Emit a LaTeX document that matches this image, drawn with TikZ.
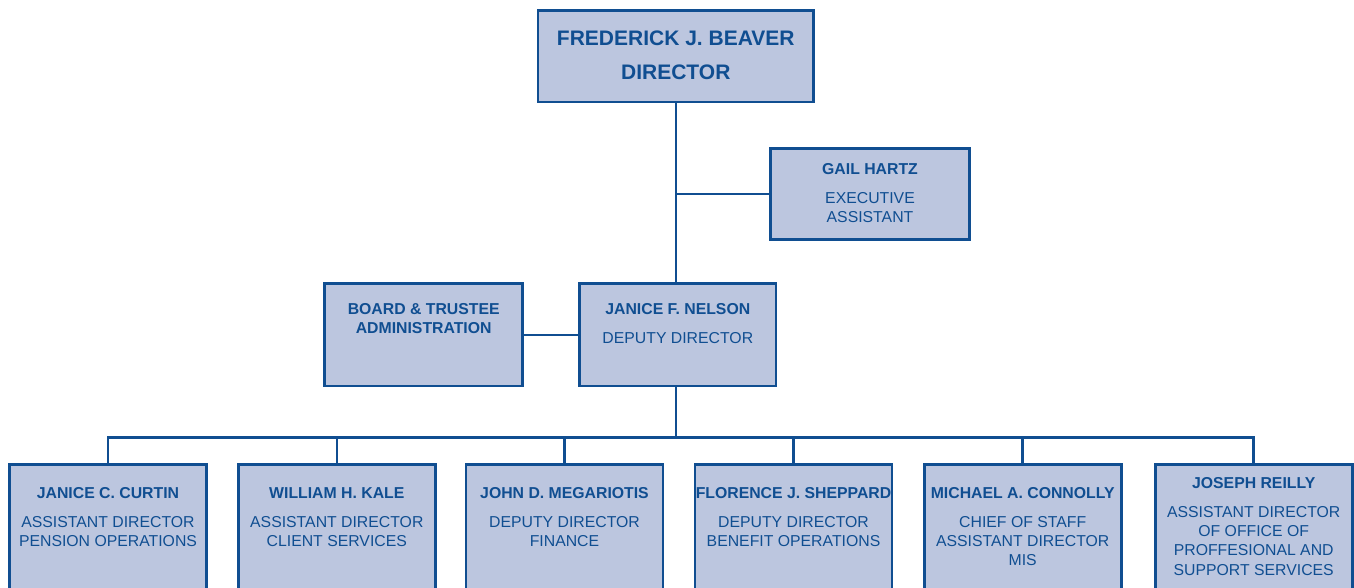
\documentclass[tikz,border=0pt]{standalone}
\usepackage{fontspec}
\setmainfont{Liberation Sans}
\usetikzlibrary{positioning}
\definecolor{orgfill}{RGB}{188,198,223}
\definecolor{orgline}{RGB}{16,78,145}
\begin{document}
\begin{tikzpicture}[x=1pt,y=-1pt]
    % Stili
    \tikzstyle{box}=[draw=orgline, fill=orgfill, line width=2.6pt, minimum width=197pt, minimum height=102.4pt, inner sep=0pt]
    \tikzstyle{boxtext}=[align=center, text=orgline, inner sep=0pt, font=\fontsize{15.8}{19.3}\selectfont]
    \tikzstyle{link}=[draw=orgline, line width=2.6pt]

    \useasboundingbox (0,0) rectangle (1354,588);
    \clip (0,0) rectangle (1354,588);

    % Direttore
    \node[box, minimum width=275.7pt, minimum height=91.4pt] (box_director) at (675.8,56.3) {};
    \node[boxtext, font=\fontsize{21}{25}\selectfont\bfseries, below=21pt of box_director.north] (txt_director) {FREDERICK J. BEAVER\\[9pt]DIRECTOR};

    % Assistente
    \node[box, minimum width=198.8pt, minimum height=90.8pt] (box_gail) at (870,194) {};
    \node[boxtext, below=16pt of box_gail.north] (txt_gail) {\textbf{GAIL HARTZ}\\[9.5pt]EXECUTIVE\\ASSISTANT};

    % Vice direttore e amministrazione
    \node[box, minimum width=198pt] (box_board) at (423.7,334.8) {};
    \node[boxtext, font=\fontsize{15.8}{19}\selectfont\bfseries, below=21pt of box_board.north] (txt_board) {BOARD \& TRUSTEE\\ADMINISTRATION};
    \node[box, minimum width=196.4pt] (box_nelson) at (677.8,334.8) {};
    \node[boxtext, below=21pt of box_nelson.north] (txt_nelson) {\textbf{JANICE F. NELSON}\\[9.5pt]DEPUTY DIRECTOR};

    % Riga inferiore
    \node[box, minimum height=150pt] (box_curtin) at (108,539.6) {};
    \node[box, minimum height=150pt] (box_kale) at (336.8,539.6) {};
    \node[box, minimum height=150pt] (box_megariotis) at (564.5,539.6) {};
    \node[box, minimum height=150pt] (box_sheppard) at (793.5,539.6) {};
    \node[box, minimum height=150pt] (box_connolly) at (1022.7,539.6) {};
    \node[box, minimum height=150pt] (box_reilly) at (1253.7,539.6) {};

    \node[boxtext, below=24pt of box_curtin.north] (txt_curtin) {\textbf{JANICE C. CURTIN}\\[9.5pt]ASSISTANT DIRECTOR\\PENSION OPERATIONS};
    \node[boxtext, below=24pt of box_kale.north] (txt_kale) {\textbf{WILLIAM H. KALE}\\[9.5pt]ASSISTANT DIRECTOR\\CLIENT SERVICES};
    \node[boxtext, below=24pt of box_megariotis.north] (txt_megariotis) {\textbf{JOHN D. MEGARIOTIS}\\[9.5pt]DEPUTY DIRECTOR\\FINANCE};
    \node[boxtext, below=24pt of box_sheppard.north] (txt_sheppard) {\textbf{FLORENCE J. SHEPPARD}\\[9.5pt]DEPUTY DIRECTOR\\BENEFIT OPERATIONS};
    \node[boxtext, below=24pt of box_connolly.north] (txt_connolly) {\textbf{MICHAEL A. CONNOLLY}\\[9.5pt]CHIEF OF STAFF\\ASSISTANT DIRECTOR\\MIS};
    \node[boxtext, below=14pt of box_reilly.north] (txt_reilly) {\textbf{JOSEPH REILLY}\\[9.5pt]ASSISTANT DIRECTOR\\OF OFFICE OF\\PROFFESIONAL AND\\SUPPORT SERVICES};

    % Collegamenti
    \draw[link] (box_director.south) -- (box_director.south |- box_nelson.north);
    \draw[link] (box_gail.west) -- (box_gail.west -| box_director.south);
    \draw[link] (box_board.east) -- (box_nelson.west);
    \coordinate (bus) at (675.8,437.3);
    \draw[link] (box_nelson.south -| bus) -- (bus);
    \draw[link] (box_curtin.north) |- (bus) -| (box_reilly.north);
    \foreach \n in {kale,megariotis,sheppard,connolly}
        \draw[link] (box_\n.north) -- (box_\n.north |- bus);
\end{tikzpicture}
\end{document}
